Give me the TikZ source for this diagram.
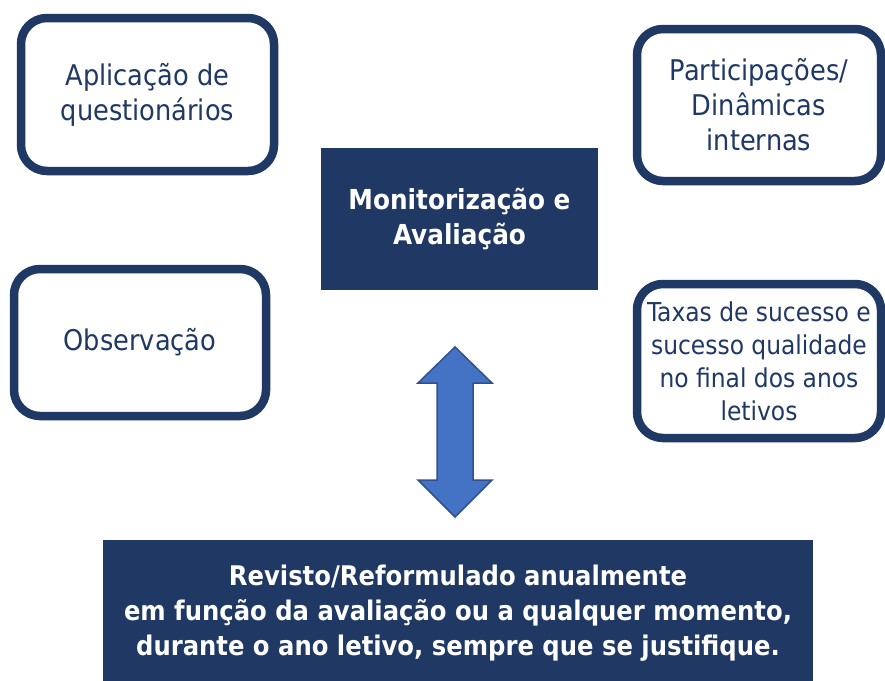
\documentclass[tikz,border=0pt]{standalone}
\usepackage{fontspec}
\setmainfont{DejaVu Sans Condensed}
\definecolor{navy}{HTML}{1F3864}
\definecolor{arrowblue}{HTML}{4472C4}
\definecolor{arrowedge}{HTML}{2F528F}
\begin{document}
\begin{tikzpicture}[x=1pt,y=-1pt,
                    method/.style={draw=navy,line width=8.5pt,rounded corners=26pt,fill=white,
                                   text=navy,align=center,font=\fontsize{28.5}{35}\selectfont},
                    result/.style={fill=navy,text=white,align=center,font=\bfseries\fontsize{27.5}{35}\selectfont}]
    \useasboundingbox[fill=white] (0,0) rectangle (885,680);
    \node[method,minimum width=253pt,minimum height=153pt] (questionarios) at (147.5,94.5) {Aplicação de\\questionários};
    \node[method,minimum width=252pt,minimum height=147pt] (observacao) at (140,342.5) {Observação};
    \node[method,minimum width=244pt,minimum height=152pt] (participacoes) at (759,105) {Participações/\\Dinâmicas\\internas};
    \node[method,minimum width=244pt,minimum height=154pt,font=\fontsize{26}{33}\selectfont] (taxas) at (759,361) {Taxas de sucesso e\\sucesso qualidade\\no final dos anos\\letivos};
    \node[result,minimum width=277pt,minimum height=142pt] (avaliacao) at (459.5,219) {Monitorização e\\Avaliação};
    \node[result,minimum width=710pt,minimum height=146pt,font=\bfseries\fontsize{27}{35}\selectfont] (revisao) at (458,613) {Revisto/Reformulado anualmente\\em função da avaliação ou a qualquer momento,\\durante o ano letivo, sempre que se justifique.};
    % double arrow between the two
    \draw[fill=arrowblue,draw=arrowedge,line width=1.5pt,line join=miter]
        (455,347) -- (492,383) -- (473,383) -- (473,480) -- (492,480) -- (455,517)
        -- (418,480) -- (437,480) -- (437,383) -- (418,383) -- cycle;
\end{tikzpicture}
\end{document}
